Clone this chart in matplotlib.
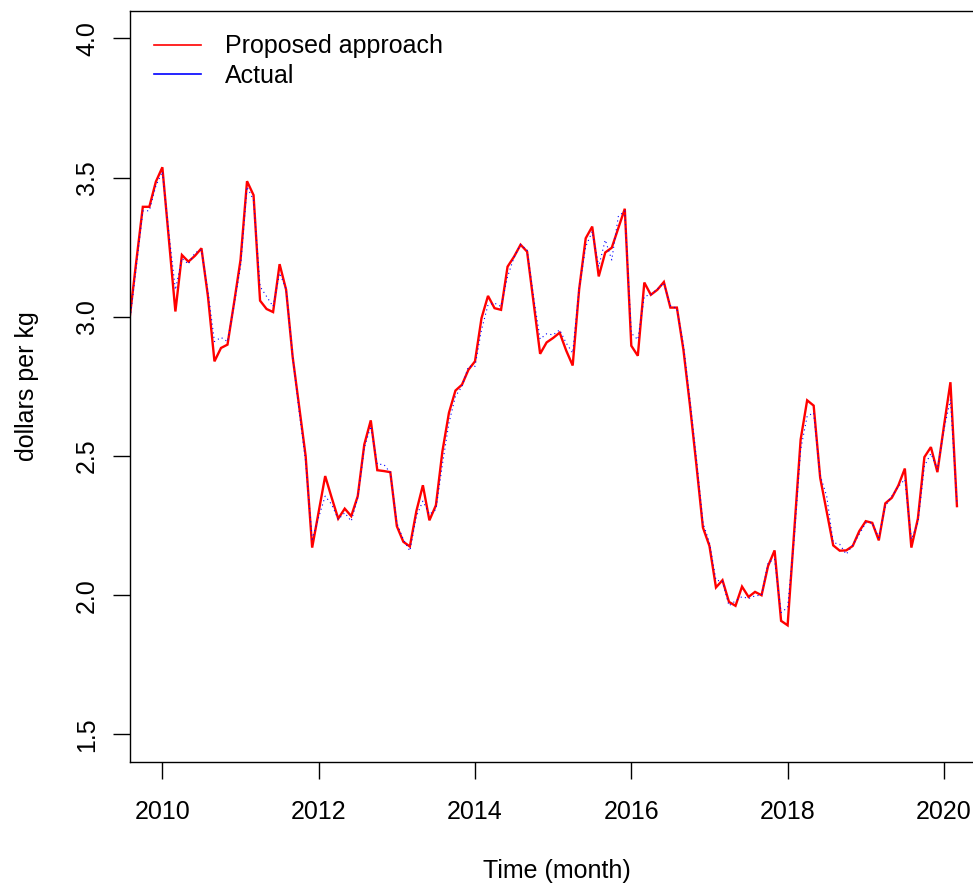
import numpy as np
import matplotlib
matplotlib.use("Agg")
import matplotlib.pyplot as plt
from matplotlib.lines import Line2D

plt.rcParams["font.family"] = ["Liberation Sans", "DejaVu Sans"]

# Monthly series, Aug 2009 .. Mar 2020
start_year = 2009
start_month = 8
proposed = [
    3.000, 3.200, 3.395, 3.395, 3.485, 3.537, 3.280, 3.019, 3.222, 3.198,
    3.219, 3.246, 3.073, 2.840, 2.888, 2.900, 3.049, 3.204, 3.487, 3.437,
    3.058, 3.028, 3.017, 3.189, 3.097, 2.857, 2.680, 2.500, 2.171, 2.300,
    2.428, 2.350, 2.275, 2.311, 2.284, 2.356, 2.541, 2.628, 2.449, 2.446,
    2.442, 2.248, 2.192, 2.175, 2.302, 2.395, 2.269, 2.323, 2.517, 2.655,
    2.735, 2.756, 2.810, 2.840, 2.995, 3.075, 3.031, 3.025, 3.180, 3.216,
    3.259, 3.234, 3.050, 2.867, 2.908, 2.924, 2.943, 2.879, 2.825, 3.100,
    3.282, 3.324, 3.145, 3.231, 3.248, 3.318, 3.388, 2.896, 2.860, 3.123,
    3.079, 3.097, 3.125, 3.033, 3.033, 2.882, 2.683, 2.467, 2.243, 2.177,
    2.028, 2.054, 1.976, 1.962, 2.031, 1.994, 2.012, 2.000, 2.105, 2.161,
    1.908, 1.892, 2.226, 2.559, 2.700, 2.681, 2.422, 2.300, 2.179, 2.160,
    2.161, 2.177, 2.230, 2.266, 2.260, 2.197, 2.330, 2.350, 2.394, 2.455,
    2.171, 2.275, 2.496, 2.532, 2.442, 2.607, 2.765, 2.320,
]
actual = [
    2.983, 3.180, 3.380, 3.381, 3.470, 3.521, 3.300, 3.097, 3.210, 3.189,
    3.230, 3.240, 3.090, 2.911, 2.926, 2.911, 3.040, 3.180, 3.467, 3.419,
    3.109, 3.073, 3.037, 3.157, 3.100, 2.860, 2.660, 2.480, 2.201, 2.280,
    2.356, 2.326, 2.272, 2.296, 2.266, 2.350, 2.529, 2.607, 2.470, 2.470,
    2.440, 2.260, 2.200, 2.159, 2.284, 2.338, 2.290, 2.308, 2.470, 2.619,
    2.714, 2.750, 2.822, 2.822, 2.953, 3.043, 3.049, 3.037, 3.144, 3.214,
    3.259, 3.240, 3.070, 2.920, 2.939, 2.935, 2.953, 2.906, 2.870, 3.103,
    3.252, 3.306, 3.180, 3.276, 3.204, 3.360, 3.380, 2.941, 2.918, 3.073,
    3.080, 3.100, 3.120, 3.040, 3.030, 2.900, 2.700, 2.490, 2.260, 2.189,
    2.054, 2.050, 1.962, 1.980, 1.995, 1.988, 1.998, 2.000, 2.117, 2.129,
    1.938, 1.956, 2.200, 2.523, 2.643, 2.655, 2.430, 2.356, 2.189, 2.183,
    2.147, 2.180, 2.219, 2.260, 2.260, 2.207, 2.320, 2.356, 2.390, 2.416,
    2.201, 2.260, 2.464, 2.509, 2.452, 2.595, 2.703, 2.332,
]
x_ticks = [2010, 2012, 2014, 2016, 2018, 2020]
y_ticks = [1.5, 2.0, 2.5, 3.0, 3.5, 4.0]
series_labels = ["Proposed approach", "Actual"]

t0 = start_year + (start_month - 1) / 12
time = t0 + np.arange(len(proposed)) / 12

W, H = 973, 886
fig = plt.figure(figsize=(W / 100, H / 100), dpi=100)
left_px, right_px, top_px, bottom_px = 129.8, 983.0, 10.5, 762.3
ax = fig.add_axes([left_px / W, 1 - bottom_px / H,
                   (right_px - left_px) / W, (bottom_px - top_px) / H])

ax.plot(time, proposed, color="#ff0000", lw=1.7, solid_joinstyle="miter")
ax.plot(time, actual, color="#0000ff", lw=0.8, dashes=(1, 3))

ax.set_xlim(t0, 2020.5)
ax.set_ylim(1.4, 4.1)
ax.set_xticks(x_ticks)
ax.set_xticklabels([str(v) for v in x_ticks])
ax.set_yticks(y_ticks)
ax.set_yticklabels([f"{v:.1f}" for v in y_ticks], rotation=90, va="center")

ax.tick_params(axis="both", direction="out", length=12, width=1,
               labelsize=18, colors="black")
ax.tick_params(axis="x", pad=15)
ax.tick_params(axis="y", pad=10)
for s in ax.spines.values():
    s.set_linewidth(1.0)
    s.set_color("black")

ax.set_xlabel("Time (month)", fontsize=18, labelpad=25)
ax.set_ylabel("dollars per kg", fontsize=18, labelpad=26)

handles = [Line2D([], [], color="#ff0000", lw=1.2),
           Line2D([], [], color="#0000ff", lw=1.2)]
ax.legend(handles, series_labels, loc="upper left", frameon=False,
          fontsize=18, handlelength=1.9, handletextpad=0.95,
          labelspacing=0.22, borderaxespad=0.55,
          bbox_to_anchor=(0.0, 1.0))

fig.savefig("out.png", dpi=100)
